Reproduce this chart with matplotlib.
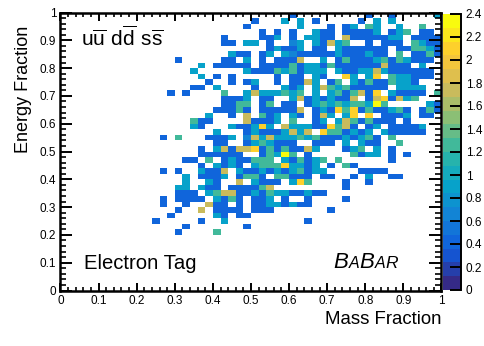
import numpy as np
import matplotlib
matplotlib.use("Agg")
import matplotlib.pyplot as plt
from matplotlib.colors import LinearSegmentedColormap
from matplotlib.ticker import MultipleLocator

plt.rcParams['font.family'] = ['Liberation Sans', 'DejaVu Sans']
plt.rcParams['mathtext.fontset'] = 'custom'
plt.rcParams['mathtext.rm'] = 'Liberation Sans'

# ROOT bird palette
bird = [(0.2082, 0.1664, 0.5293), (0.0592, 0.3599, 0.8684), (0.0780, 0.5041, 0.8385),
        (0.0232, 0.6419, 0.7914), (0.1802, 0.7178, 0.6425), (0.5301, 0.7492, 0.4662),
        (0.8186, 0.7328, 0.3499), (0.9956, 0.7862, 0.1968), (0.9764, 0.9832, 0.0539)]

# cell contents, one digit per bin, '.' = empty bin
level_values = [0, 0.45, 0.7, 0.9, 1.25, 1.7, 2.1, 2.4]

# top row first, columns 10 to 49 (columns 0-9 and the lowest rows are empty)
rows = [
    ".......... .......... 1......... 1..1.....3",
    ".......... .....1...3 .3.1.....1 .3.3......",
    ".......... ....1..... .3...1.13. 43..3..4..",
    ".......... ......1.1. 1..311.111 13.134.11.",
    ".......... .1....113. 1.3311.511 11133.1111",
    ".......... .11.33.1.. 23.31534.. 1.111.4311",
    ".......... .......131 13.11.3111 111.114431",
    ".......... ..311.13.3 2111113111 311.4.1141",
    ".....1.... .11.3.1.11 15..3.1411 134143111.",
    "........3. 11111.1111 4133141111 115111.3..",
    ".......3.. ....311143 41333.3113 353111111.",
    "........3. 1.1.....1. 11.31..63. 36.433111.",
    ".........1 ..1.13..1. 1153.14.31 4114331...",
    ".......11. 3....1...3 13.3543411 111.3333..",
    "....1.1... .4..353334 34.3.34145 16.31111.4",
    ".......... .1113.11.. 351313115. 1561534...",
    ".......... .1144.14.1 1.13434344 374.....31",
    ".......... 11141.1111 15.1316461 411341.141",
    ".........3 ..1.5.413. 31.153.36. 6.1113.11.",
    ".......411 ....51113. 4..13.3541 4111.1....",
    ".......31. ..311363.5 333116451. 13.11113..",
    ".......... 3...131113 535.644131 3.311111..",
    "...1.4...1 113.253533 3434111313 41.4......",
    ".......... 11..134311 1..111.3.3 11..4.....",
    "........1. 3515561414 1153...134 .3.1......",
    "........11 1111..1437 4.1.....41 33.1.1....",
    "......11.4 .1311444.3 14134.4... ...1......",
    "........1. 3131.34446 3313.1.41. ..........",
    "...1.1..31 15.3113131 34133....1 111.......",
    "......3.11 13.1441.44 111.11..1. 3..11.....",
    "......3..3 1..5.3111. 364....1.. 1.........",
    ".....33.31 1.111145.. .......1.. ..........",
    ".....111.3 4551131433 11311..... ..........",
    "...1.1111. 3141.113.1 ..1....1.. ..........",
    "...1..1..5 11.1.11331 311....... ..........",
    ".....1..5. 1111.111.. .....1.... ..........",
    "....1..... 31.11..... .......... ..........",
    "..1.....1. .3........ ..1....... ..........",
    "......1... ....1..... .......... ..........",
    ".....1.... 4......... .......... ..........",
]

xticks = [0, 0.1, 0.2, 0.3, 0.4, 0.5, 0.6, 0.7, 0.8, 0.9, 1]
xticklabels = ['0', '0.1', '0.2', '0.3', '0.4', '0.5', '0.6', '0.7', '0.8', '0.9', '1']
cbar_ticks = [0, 0.2, 0.4, 0.6, 0.8, 1, 1.2, 1.4, 1.6, 1.8, 2, 2.2, 2.4]
cbar_labels = ['0', '0.2', '0.4', '0.6', '0.8', '1', '1.2', '1.4', '1.6', '1.8', '2', '2.2', '2.4']

nbins = 50
z = np.full((nbins, nbins), np.nan)
for r, row in enumerate(rows):
    row = row.replace(' ', '')
    for c, ch in enumerate(row):
        if ch != '.':
            z[nbins - 1 - r, c + 10] = level_values[int(ch)]

W, H = 485, 346
fig = plt.figure(figsize=(W / 100, H / 100), dpi=100)
ax = fig.add_axes([60.5 / W, 1 - 290.5 / H, 381 / W, 278 / H])

edges = np.linspace(0, 1, nbins + 1)
cmap = LinearSegmentedColormap.from_list('bird', bird, N=20)
mesh = ax.pcolormesh(edges, edges, z, cmap=cmap, vmin=0, vmax=2.4)

ax.set_xlim(0, 1)
ax.set_ylim(0, 1)
ax.set_xticks(xticks)
ax.set_xticklabels(xticklabels)
ax.set_yticks(xticks)
ax.set_yticklabels(xticklabels)
ax.xaxis.set_minor_locator(MultipleLocator(0.02))
ax.yaxis.set_minor_locator(MultipleLocator(0.02))
ax.tick_params(axis='x', which='major', direction='in', top=True, length=6, width=1.4, labelsize=8.5, pad=3)
ax.tick_params(axis='x', which='minor', direction='in', top=True, length=3, width=1.2)
ax.tick_params(axis='y', which='major', direction='in', right=True, length=8.5, width=1.4, labelsize=8.5, pad=3)
ax.tick_params(axis='y', which='minor', direction='in', right=True, length=4, width=1.2)
for s in ax.spines.values():
    s.set_linewidth(1.8)

fig.text(442 / W, 1 - 324 / H, 'Mass Fraction', fontsize=13.4, ha='right', va='baseline')
fig.text(24 / W, 1 - 89 / H, 'Energy Fraction', fontsize=13, rotation=90, ha='center', va='center')

ax.text(81 / W, 1 - 46 / H, r'$\mathrm{u\overline{u}\ d\overline{d}\ s\overline{s}}$', transform=fig.transFigure,
        fontsize=15, ha='left', va='baseline')
ax.text(84 / W, 1 - 269 / H, 'Electron Tag', transform=fig.transFigure, fontsize=14.6, ha='left', va='baseline')

# BaBar logo, small caps done by hand
for txt, x, size in [('B', 333, 16), ('A', 348.5, 11.5), ('B', 359.5, 16), ('A', 374.5, 11.5), ('R', 385.5, 12.5)]:
    ax.text(x / W, 1 - 268 / H, txt, transform=fig.transFigure, fontsize=size, style='italic',
            ha='left', va='baseline')

cax = fig.add_axes([443 / W, 1 - 290 / H, 18.5 / W, 276 / H])
cb = fig.colorbar(mesh, cax=cax)
cb.set_ticks(cbar_ticks)
cb.set_ticklabels(cbar_labels)
cax.minorticks_off()
cax.tick_params(axis='y', direction='in', length=8, width=1.4, labelsize=8.5, pad=3)
cb.outline.set_visible(False)
cax.spines['right'].set_visible(True)
cax.spines['right'].set_linewidth(1.4)

fig.savefig('out.png', dpi=100)
